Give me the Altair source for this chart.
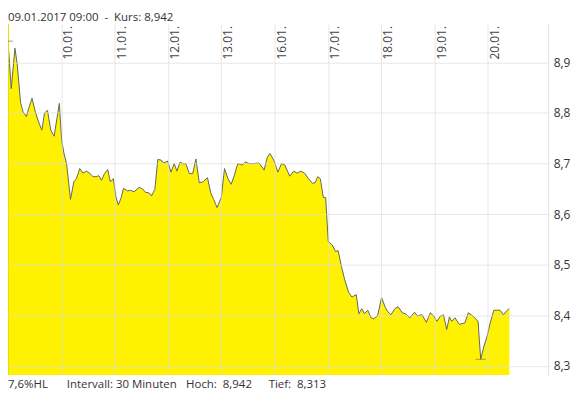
import altair as alt
import pandas as pd

# time in trading days since 09.01.2017 09:00 (10.01 = 1, 11.01 = 2, ... weekend skipped)
t = [0.0, 0.061, 0.130, 0.172, 0.235, 0.283, 0.346, 0.394, 0.45, 0.513, 0.574, 0.635, 0.685,
     0.741, 0.802, 0.865, 0.963, 1.006, 1.05, 1.098, 1.172, 1.235, 1.283, 1.346, 1.407, 1.469,
     1.531, 1.593, 1.654, 1.704, 1.754, 1.809, 1.87, 1.92, 1.976, 2.024, 2.069, 2.117, 2.167,
     2.241, 2.302, 2.365, 2.457, 2.519, 2.580, 2.643, 2.691, 2.754, 2.809, 2.870, 2.920, 2.994,
     3.056, 3.117, 3.167, 3.228, 3.291, 3.333, 3.402, 3.463, 3.524, 3.587, 3.661, 3.741, 3.802,
     3.857, 3.920, 4.0, 4.061, 4.124, 4.185, 4.246, 4.309, 4.389, 4.450, 4.524, 4.617, 4.709,
     4.802, 4.865, 4.913, 4.987, 5.061, 5.130, 5.191, 5.283, 5.357, 5.420, 5.494, 5.561, 5.635,
     5.709, 5.759, 5.809, 5.857, 5.913, 5.957, 6.006, 6.080, 6.143, 6.191, 6.254, 6.315, 6.389,
     6.45, 6.531, 6.580, 6.635, 6.685, 6.746, 6.809, 6.857, 6.931, 7.006, 7.074, 7.117, 7.180,
     7.254, 7.315, 7.394, 7.457, 7.537, 7.624, 7.676, 7.765, 7.846, 7.920, 7.981, 8.043, 8.106,
     8.167, 8.228, 8.278, 8.319, 8.383, 8.463, 8.569, 8.635, 8.722, 8.815, 8.865, 8.926, 8.987,
     9.043, 9.111, 9.185, 9.228, 9.291, 9.352, 9.402]

kurs = [8.942, 8.848, 8.928, 8.897, 8.821, 8.802, 8.793, 8.811, 8.829, 8.802, 8.782, 8.766, 8.800,
        8.805, 8.766, 8.754, 8.819, 8.746, 8.720, 8.700, 8.629, 8.664, 8.670, 8.690, 8.681, 8.685,
        8.681, 8.674, 8.674, 8.676, 8.667, 8.680, 8.688, 8.664, 8.670, 8.634, 8.618, 8.631, 8.651,
        8.646, 8.647, 8.644, 8.653, 8.650, 8.643, 8.642, 8.636, 8.649, 8.708, 8.707, 8.701, 8.705,
        8.683, 8.700, 8.685, 8.703, 8.699, 8.700, 8.680, 8.680, 8.709, 8.662, 8.664, 8.672, 8.642,
        8.629, 8.613, 8.633, 8.690, 8.670, 8.659, 8.677, 8.700, 8.697, 8.703, 8.700, 8.700, 8.701,
        8.687, 8.713, 8.720, 8.706, 8.683, 8.700, 8.697, 8.675, 8.685, 8.681, 8.685, 8.681, 8.670,
        8.661, 8.662, 8.674, 8.670, 8.633, 8.633, 8.546, 8.539, 8.526, 8.528, 8.496, 8.470, 8.445,
        8.436, 8.441, 8.403, 8.413, 8.403, 8.410, 8.395, 8.393, 8.399, 8.435, 8.416, 8.408, 8.401,
        8.413, 8.417, 8.405, 8.403, 8.395, 8.406, 8.399, 8.401, 8.386, 8.405, 8.399, 8.388, 8.398,
        8.401, 8.372, 8.397, 8.388, 8.395, 8.382, 8.385, 8.405, 8.398, 8.388, 8.313, 8.339, 8.359,
        8.385, 8.410, 8.410, 8.410, 8.401, 8.409, 8.413]

day_pos = [1, 2, 3, 4, 5, 6, 7, 8, 9]
day_labels = ["10.01.", "11.01.", "12.01.", "13.01.", "16.01.", "17.01.", "18.01.", "19.01.", "20.01."]
y_ticks = [8.3, 8.4, 8.5, 8.6, 8.7, 8.8, 8.9]

hoch_t, hoch = [0.0], [8.942]
tief_t, tief = [8.865], [8.313]

header = "09.01.2017 09:00\u00a0\u00a0-\u00a0\u00a0Kurs: 8,942"
footer = ["7,6%HL", "Intervall: 30 Minuten", "Hoch:\u00a0\u00a08,942", "Tief:\u00a0\u00a08,313"]

FONT = "Open Sans"
TXT = "#333333"

df = pd.DataFrame({"t": t, "kurs": kurs})
days = pd.DataFrame({"pos": day_pos, "label": day_labels})
ext = pd.DataFrame({"t": hoch_t + tief_t, "kurs": hoch + tief})

xs = alt.Scale(domain=[0, 10.13], nice=False, zero=False)
ys = alt.Scale(domain=[8.2817, 8.976], nice=False, zero=False)

area = alt.Chart(df).mark_area(
    color="#FFF200", opacity=1, fillOpacity=1,
    line={"color": "#66665a", "strokeWidth": 1}, clip=True
).encode(
    x=alt.X("t:Q", scale=xs, axis=alt.Axis(
        orient="top", values=day_pos, grid=True, gridColor="#dedede", gridOpacity=0.7,
        labels=False, ticks=False, domain=False, title=None, zindex=1)),
    y=alt.Y("kurs:Q", scale=ys, axis=alt.Axis(
        orient="right", values=y_ticks, grid=True, gridColor="#dedede", gridOpacity=0.7,
        ticks=False, domain=True, domainColor="#e2e2e2", labelPadding=5, labelFontSize=12,
        labelFont=FONT, labelColor=TXT, title=None, zindex=1,
        labelExpr="replace(format(datum.value, '.1f'), '.', ',')")),
)

cross = alt.Chart(pd.DataFrame({"t": hoch_t})).mark_rule(
    color="#e8dc00", strokeWidth=2
).encode(x=alt.X("t:Q", scale=xs))

ticks = alt.Chart(ext).mark_tick(
    orient="horizontal", size=10, thickness=1, color="#777777"
).encode(x=alt.X("t:Q", scale=xs), y=alt.Y("kurs:Q", scale=ys))

day_text = alt.Chart(days).mark_text(
    angle=270, align="right", baseline="middle", dy=7, fontSize=12, font=FONT, color="#444444"
).encode(x=alt.X("pos:Q", scale=xs), y=alt.value(2), text="label:N")

head = alt.Chart(pd.DataFrame({"s": [header]})).mark_text(
    align="left", baseline="middle", fontSize=11.5, font=FONT, color=TXT
).encode(x=alt.value(0), y=alt.value(-6), text="s:N")

foot_x = [0, 59, 179, 262]
foot_layers = [
    alt.Chart(pd.DataFrame({"s": [s]})).mark_text(
        align="left", baseline="middle", fontSize=11.5, font=FONT, color=TXT
    ).encode(x=alt.value(fx), y=alt.value(363), text="s:N")
    for s, fx in zip(footer, foot_x)
]

chart = alt.layer(area, cross, ticks, day_text, head, *foot_layers).properties(
    width=543, height=353,
    padding={"left": 0, "top": 15, "right": 32, "bottom": 25},
    autosize=alt.AutoSizeParams(type="none"),
    background="white",
).configure_view(stroke=None)

chart.save("out.html", embed_options={"renderer": "svg", "actions": False})
